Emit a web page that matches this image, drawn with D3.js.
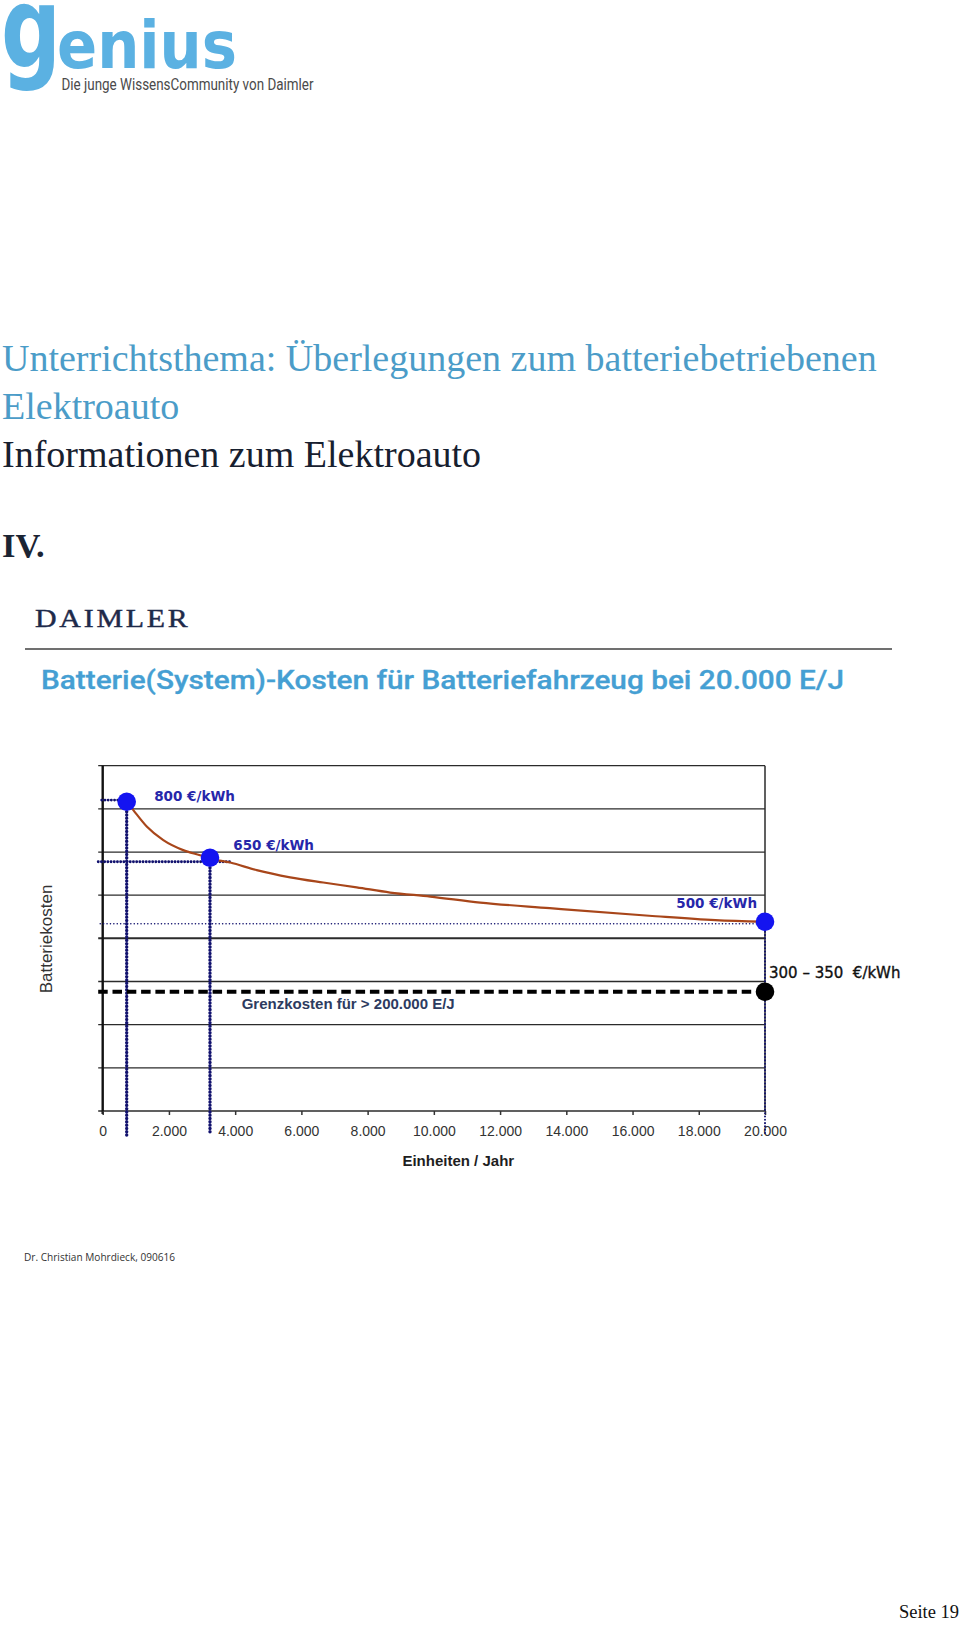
<!DOCTYPE html>
<html><head><meta charset="utf-8">
<script src="https://cdn.jsdelivr.net/npm/d3@7"></script>
<style>body{margin:0;background:#fff}svg{display:block;background:#fff}</style>
</head><body>
<svg id="c" width="960" height="1628"></svg>
<script>
// ---- data ----
const xTickValues = [0, 2000, 4000, 6000, 8000, 10000, 12000, 14000, 16000, 18000, 20000];
const curveUnits = [725, 925, 1330, 1830, 2430, 2940, 3240, 3850, 4650, 5660, 6660, 7670, 8680, 9890, 11400, 13500, 16500, 18500, 20000];
const curveCost  = [800, 779, 738, 704, 679, 666, 658, 648, 629, 611, 598, 586, 573, 563, 548, 534, 515, 504, 500];
const markerUnits = [725, 3240, 20000];
const markerCost  = [800, 660, 500];
const markerLabels = ["800 €/kWh", "650 €/kWh", "500 €/kWh"];
const refCost = [804, 650, 495];
const limitUnits = 20000;
const limitCost = 325;
const limitLabel = "300 – 350  €/kWh";
const limitNote = "Grenzkosten für > 200.000 E/J";
const gridSteps = [0, 1, 2, 3, 4, 5, 6, 7, 8];

const titleLines = ["Unterrichtsthema: Überlegungen zum batteriebetriebenen", "Elektroauto"];
const subTitle = "Informationen zum Elektroauto";
const chapter = "IV.";
const chartTitle = "Batterie(System)-Kosten für Batteriefahrzeug bei 20.000 E/J";
const xAxisTitle = "Einheiten / Jahr";
const yAxisTitle = "Batteriekosten";
const footerNote = "Dr. Christian Mohrdieck, 090616";
const pageLabel = "Seite 19";

// ---- layout ----
const svg = d3.select("#c");
const plotLeft = 102.7, plotRight = 765, plotTop = 765.7, plotBottom = 1111;
const x = d3.scaleLinear().domain([0, 20000]).range([plotLeft, plotRight]);
const y = d3.scaleLinear().domain([27, 890]).range([plotBottom, plotTop]);
const grid = d3.scaleLinear().domain([0, 8]).range([plotBottom, plotTop]);
const fmt = d3.formatLocale({decimal: ",", thousands: ".", grouping: [3], currency: ["", "€"]}).format(",");

// ---- header ----
const logoBlue = "#5bb1e2";
const logo = svg.append("g");
logo.append("text").attr("x", 1).attr("y", 67).text("g")
  .attr("font-family", "DejaVu Sans").attr("font-weight", "bold").attr("font-size", 112).attr("fill", logoBlue)
  .attr("textLength", 60).attr("lengthAdjust", "spacingAndGlyphs");
logo.append("text").attr("x", 57).attr("y", 68).text("enius")
  .attr("font-family", "DejaVu Sans").attr("font-weight", "bold").attr("font-size", 66).attr("fill", logoBlue)
  .attr("textLength", 180).attr("lengthAdjust", "spacingAndGlyphs");
logo.append("text").attr("x", 61.5).attr("y", 90).text("Die junge WissensCommunity von Daimler")
  .attr("font-family", "Roboto").attr("font-size", 16).attr("fill", "#4a4a4a")
  .attr("textLength", 252).attr("lengthAdjust", "spacingAndGlyphs");

svg.append("text").attr("x", 2).attr("y", 371).text(titleLines[0])
  .attr("font-family", "Liberation Serif").attr("font-size", 38).attr("fill", "#4b9cc8");
svg.append("text").attr("x", 2).attr("y", 418.5).text(titleLines[1])
  .attr("font-family", "Liberation Serif").attr("font-size", 38).attr("fill", "#4b9cc8");
svg.append("text").attr("x", 2).attr("y", 466.5).text(subTitle)
  .attr("font-family", "Liberation Serif").attr("font-size", 38).attr("fill", "#17202f");
svg.append("text").attr("x", 2).attr("y", 556.5).text(chapter)
  .attr("font-family", "Liberation Serif").attr("font-weight", "bold").attr("font-size", 34.5).attr("fill", "#1b2433");

svg.append("text").attr("transform", "translate(35,626.7) scale(1.17,1)").text("DAIMLER")
  .attr("font-family", "Liberation Serif").attr("font-size", 25.5).attr("letter-spacing", 2.4)
  .attr("fill", "#1e2a4a").attr("stroke", "#1e2a4a").attr("stroke-width", 0.45);
svg.append("line").attr("x1", 25).attr("x2", 892).attr("y1", 649).attr("y2", 649)
  .attr("stroke", "#707070").attr("stroke-width", 1.8);
svg.append("text").attr("x", 41).attr("y", 688.5).text(chartTitle)
  .attr("font-family", "Roboto").attr("font-weight", 500).attr("font-size", 25.5).attr("fill", "#459fd3")
  .attr("stroke", "#459fd3").attr("stroke-width", 0.3)
  .attr("textLength", 803).attr("lengthAdjust", "spacingAndGlyphs");

// ---- chart ----
const g = svg.append("g");
g.selectAll("line.grid").data(gridSteps).join("line").attr("class", "grid")
  .attr("x1", plotLeft - 4.5).attr("x2", plotRight)
  .attr("y1", d => grid(d)).attr("y2", d => grid(d))
  .attr("stroke", "#2b2b2b").attr("stroke-width", d => d === 4 ? 2 : (d === 0 ? 1.6 : 1.3));
g.append("line").attr("x1", plotRight).attr("x2", plotRight).attr("y1", plotTop).attr("y2", plotBottom)
  .attr("stroke", "#2b2b2b").attr("stroke-width", 1.5);
g.append("line").attr("x1", plotLeft).attr("x2", plotLeft).attr("y1", plotTop).attr("y2", plotBottom + 3)
  .attr("stroke", "#111").attr("stroke-width", 2.4);

const xAxis = g.append("g").attr("transform", `translate(0,${plotBottom})`)
  .call(d3.axisBottom(x).tickValues(xTickValues).tickFormat(fmt).tickSize(4).tickPadding(11));
xAxis.select(".domain").remove();
xAxis.selectAll(".tick line").attr("stroke", "#333").attr("stroke-width", 1.5);
xAxis.selectAll(".tick text").attr("font-family", "Liberation Sans").attr("font-size", 14).attr("fill", "#333");

g.append("text").attr("x", 458.3).attr("y", 1165.7).attr("text-anchor", "middle").text(xAxisTitle)
  .attr("font-family", "Liberation Sans").attr("font-weight", "bold").attr("font-size", 15).attr("fill", "#1e1e1e");
g.append("text").attr("transform", "translate(51.5,939) rotate(-90)").attr("text-anchor", "middle").text(yAxisTitle)
  .attr("font-family", "Liberation Sans").attr("font-size", 17).attr("fill", "#333");

// reference dotted lines
const navy = "#12126e";
const refStart = [plotLeft - 1, plotLeft - 4.5, plotLeft - 2.5];
const refEnd = [x(markerUnits[0]), x(markerUnits[1]) + 20, x(markerUnits[2])];
refCost.forEach((c, i) => {
  g.append("line").attr("x1", refStart[i]).attr("x2", refEnd[i]).attr("y1", y(c)).attr("y2", y(c))
    .attr("stroke", navy).attr("stroke-width", i === 2 ? 1.5 : 2.8)
    .attr("stroke-linecap", "round")
    .attr("stroke-dasharray", i === 2 ? "0.1 3.3" : "0.1 3.1");
});
// vertical dotted drop lines
const dropEnd = [plotBottom + 25.7, plotBottom + 21.7, plotBottom + 24];
markerUnits.forEach((u, i) => {
  g.append("line").attr("x1", x(u)).attr("x2", x(u)).attr("y1", y(markerCost[i])).attr("y2", dropEnd[i])
    .attr("stroke", navy).attr("stroke-width", i === 2 ? 2 : 3.4)
    .attr("stroke-linecap", "round").attr("stroke-dasharray", "0.1 3.2");
});

// limit cost dashed line
g.append("line").attr("x1", plotLeft - 4.5).attr("x2", x(limitUnits)).attr("y1", y(limitCost)).attr("y2", y(limitCost))
  .attr("stroke", "#000").attr("stroke-width", 4.2).attr("stroke-dasharray", "9.5 4.8");

// curve
const pts = curveUnits.map((u, i) => [u, curveCost[i]]);
g.append("path").datum(pts)
  .attr("d", d3.line().x(d => x(d[0])).y(d => y(d[1])).curve(d3.curveMonotoneX))
  .attr("fill", "none").attr("stroke", "#a8461a").attr("stroke-width", 2.2);

// markers
g.selectAll("circle.m").data(markerUnits).join("circle").attr("class", "m")
  .attr("cx", d => x(d)).attr("cy", (d, i) => y(markerCost[i])).attr("r", 9.3).attr("fill", "#1414f0");
g.append("circle").attr("cx", x(limitUnits)).attr("cy", y(limitCost)).attr("r", 9.3).attr("fill", "#000");

// labels
const lblDx = [27.5, 23.3, -8];
const lblDy = [-1, -7.3, -13.4];
const lblAnchor = ["start", "start", "end"];
markerLabels.forEach((t, i) => {
  g.append("text").attr("x", x(markerUnits[i]) + lblDx[i]).attr("y", y(markerCost[i]) + lblDy[i])
    .attr("text-anchor", lblAnchor[i]).text(t)
    .attr("font-family", "DejaVu Sans").attr("font-weight", "bold").attr("font-size", 13.5).attr("fill", "#2626aa");
});
g.append("text").attr("x", x(limitUnits) + 4).attr("y", y(limitCost) - 13.4).text(limitLabel)
  .style("white-space", "pre")
  .attr("font-family", "DejaVu Sans").attr("font-size", 15).attr("fill", "#111")
  .attr("stroke", "#111").attr("stroke-width", 0.35);
g.append("text").attr("x", plotLeft + 139).attr("y", y(limitCost) + 17.5).text(limitNote)
  .attr("font-family", "Liberation Sans").attr("font-weight", "bold").attr("font-size", 15).attr("fill", "#2d3b60");

// ---- footer ----
svg.append("text").attr("x", 24).attr("y", 1260.5).text(footerNote)
  .attr("font-family", "Open Sans").attr("font-size", 10).attr("fill", "#333")
  .attr("textLength", 151).attr("lengthAdjust", "spacingAndGlyphs");
svg.append("text").attr("x", 959).attr("y", 1618).attr("text-anchor", "end").text(pageLabel)
  .attr("font-family", "Liberation Serif").attr("font-size", 18.5).attr("fill", "#111");
</script>
</body></html>
